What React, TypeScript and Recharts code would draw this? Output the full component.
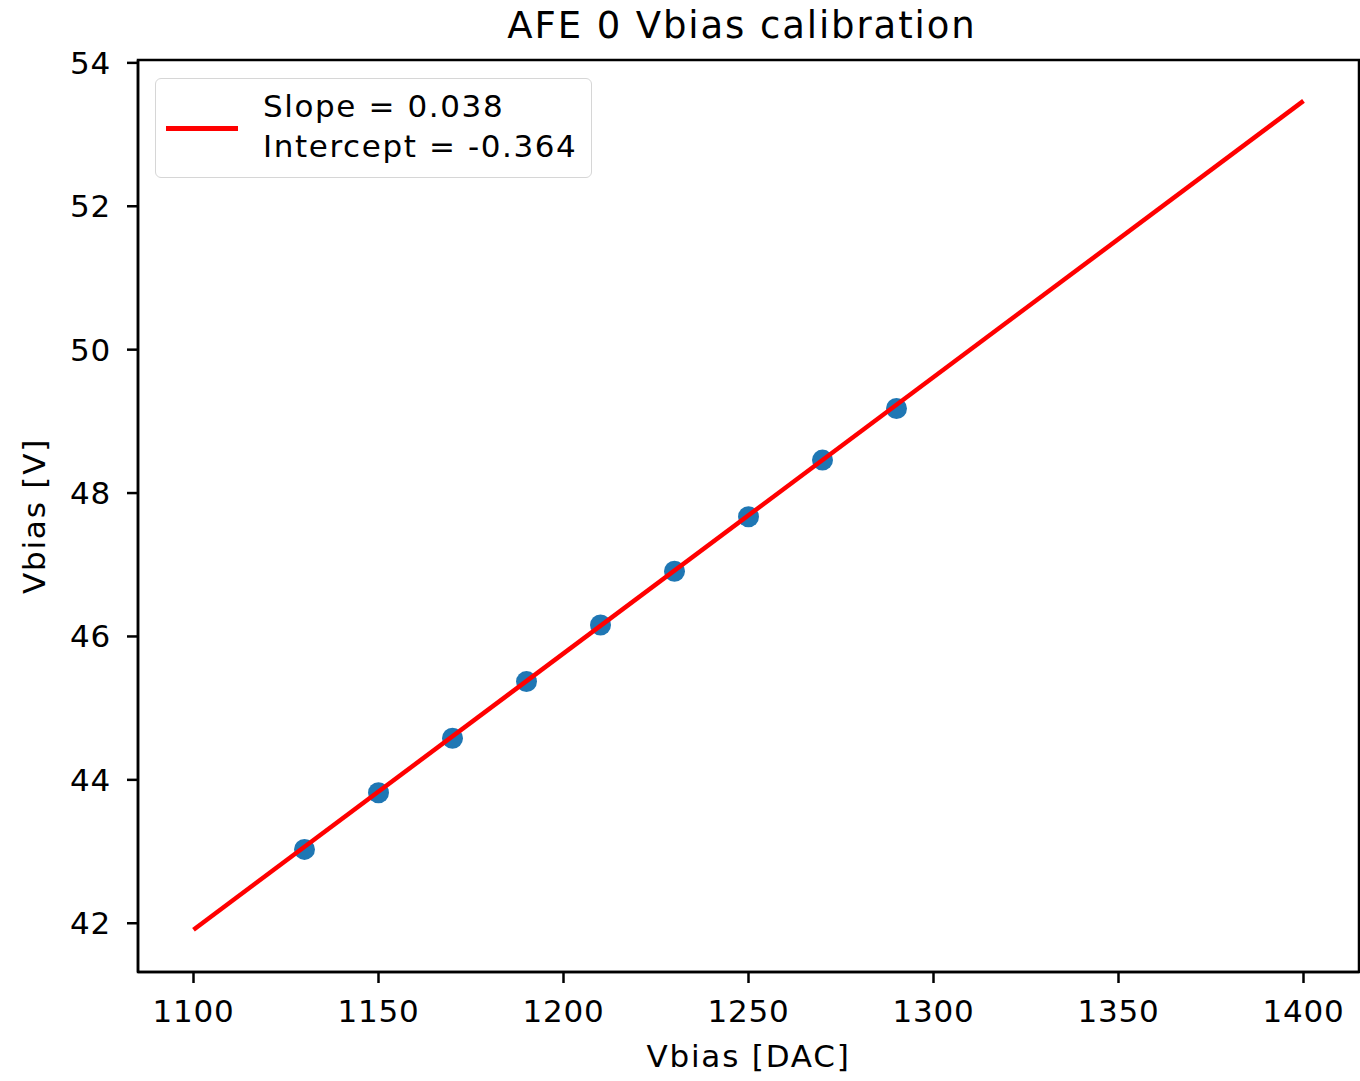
import React from 'react';
import { ScatterChart, Scatter, XAxis, YAxis, ReferenceArea, Legend, Label } from 'recharts';

// calibration points
const dacValues = [1130, 1150, 1170, 1190, 1210, 1230, 1250, 1270, 1290];
const vbiasValues = [43.03, 43.82, 44.58, 45.37, 46.16, 46.91, 47.67, 48.46, 49.18];

// fitted line end points
const fitDac = [1100, 1400];
const fitVbias = [41.91, 53.47];

const xTicks = [1100, 1150, 1200, 1250, 1300, 1350, 1400];
const yTicks = [42, 44, 46, 48, 50, 52, 54];

const xDomain = [1085, 1415];
const yDomain = [41.32, 54.04];

const legendLines = ['Slope = 0.038', 'Intercept = -0.364'];

const FONT = '"DejaVu Sans", sans-serif';

const points = dacValues.map((x, i) => ({ x, y: vbiasValues[i] }));
const fit = fitDac.map((x, i) => ({ x, y: fitVbias[i] }));

const Dot = (props: any) => {
  const { cx, cy } = props;
  if (cx == null || cy == null) return null;
  return <circle cx={cx} cy={cy} r={10.5} fill="#1f77b4" />;
};

const FitLegend = () => (
  <div
    style={{
      width: 437,
      height: 100,
      boxSizing: 'border-box',
      border: '1.5px solid #d6d6d6',
      borderRadius: 6,
      background: '#fff',
      position: 'relative',
      fontFamily: FONT,
      fontSize: 31,
      letterSpacing: 1.6,
      color: '#000',
    }}
  >
    <div
      style={{
        position: 'absolute',
        left: 10,
        top: 47,
        width: 72,
        height: 4.5,
        background: '#ff0000',
      }}
    />
    <div style={{ position: 'absolute', left: 107, top: 7, lineHeight: '40px', whiteSpace: 'nowrap' }}>
      {legendLines.map((t) => (
        <div key={t}>{t}</div>
      ))}
    </div>
  </div>
);

const tickStyle = { fontFamily: FONT, fontSize: 31, fill: '#000', letterSpacing: 0.8 };
const labelStyle = { fontFamily: FONT, fontSize: 31, fill: '#000', letterSpacing: 1.8 };

export default function App() {
  return (
    <div style={{ position: 'absolute', left: 0, top: 0, width: 1360, height: 1081, background: '#fff' }}>
      <svg style={{ position: 'absolute', left: 0, top: 0 }} width={1360} height={60}>
        <text
          x={742}
          y={38}
          textAnchor="middle"
          fontFamily={FONT}
          fontSize={37}
          fill="#000"
          style={{ letterSpacing: 1.9 }}
        >
          AFE 0 Vbias calibration
        </text>
      </svg>
      <ScatterChart width={1360} height={1081} margin={{ top: 60, right: 1, left: 0, bottom: 0 }}>
        <XAxis
          type="number"
          dataKey="x"
          domain={xDomain}
          ticks={xTicks}
          allowDataOverflow
          height={109}
          tick={tickStyle}
          tickSize={11}
          tickMargin={17}
          stroke="#000"
          strokeWidth={2.5}
        >
          <Label value="Vbias [DAC]" position="insideBottom" offset={14} style={labelStyle} />
        </XAxis>
        <YAxis
          type="number"
          dataKey="y"
          domain={yDomain}
          ticks={yTicks}
          allowDataOverflow
          width={138}
          tick={tickStyle}
          tickSize={11}
          tickMargin={16}
          stroke="#000"
          strokeWidth={2.5}
        >
          <Label
            value="Vbias [V]"
            angle={-90}
            position="insideLeft"
            offset={34}
            style={{ ...labelStyle, textAnchor: 'middle' }}
          />
        </YAxis>
        <ReferenceArea
          x1={xDomain[0]}
          x2={xDomain[1]}
          y1={yDomain[0]}
          y2={yDomain[1]}
          fill="none"
          stroke="#000"
          strokeWidth={2.5}
          fillOpacity={0}
        />
        <Legend
          layout="vertical"
          align="center"
          verticalAlign="middle"
          content={FitLegend}
          wrapperStyle={{ left: 155, top: 78, width: 437, height: 100 }}
        />
        <Scatter data={points} shape={Dot} isAnimationActive={false} />
        <Scatter
          data={fit}
          line={{ stroke: '#ff0000', strokeWidth: 4.5 }}
          shape={() => null}
          legendType="none"
          isAnimationActive={false}
        />
      </ScatterChart>
    </div>
  );
}
